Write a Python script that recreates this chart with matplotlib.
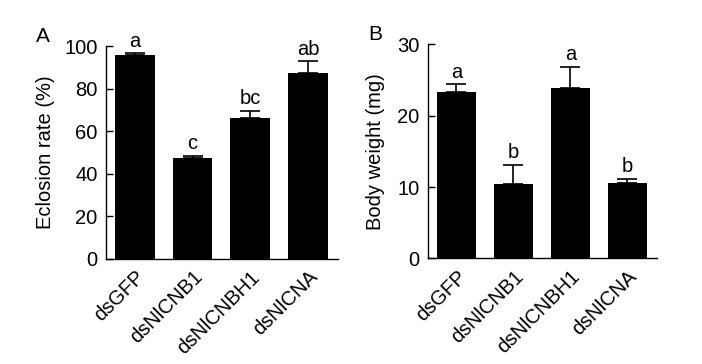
import matplotlib.pyplot as plt
import numpy as np

plt.rcParams['font.family'] = ['Liberation Sans', 'DejaVu Sans']

groups = ['dsGFP', 'dsNlCNB1', 'dsNlCNBH1', 'dsNlCNA']

eclosion = [95.8, 47.3, 66.0, 87.2]
eclosion_err = [0.8, 1.1, 3.5, 5.6]
eclosion_letters = ['a', 'c', 'bc', 'ab']

weight = [23.3, 10.5, 23.9, 10.6]
weight_err = [1.1, 2.6, 2.9, 0.5]
weight_letters = ['a', 'b', 'a', 'b']

fig = plt.figure(figsize=(7.02, 3.64), dpi=100)
axA = fig.add_axes([0.151, 0.2885, 0.3305, 0.585])
axB = fig.add_axes([0.6097, 0.290, 0.326, 0.588])


def panel(ax, vals, errs, letters, ylim, yticks, ylabel, tag, tag_x, pad):
    x = np.arange(len(groups))
    ax.bar(x, vals, width=0.69, color='black', zorder=2)
    ax.errorbar(x, vals, yerr=[np.zeros(len(vals)), errs], fmt='none',
                ecolor='black', elinewidth=1.2, capsize=7.5, capthick=1.2, zorder=1)
    for xi, v, e, t in zip(x, vals, errs, letters):
        ax.annotate(t, (xi, v + e), xytext=(0, 2), textcoords='offset points',
                    ha='center', va='bottom', fontsize=14.5)
    ax.set_xlim(-0.5, 3.52)
    ax.set_ylim(*ylim)
    ax.set_yticks(yticks)
    ax.set_xticks(x)
    ax.set_xticklabels(groups, rotation=45, ha='right', rotation_mode='anchor',
                       fontsize=14.5)
    ax.tick_params(axis='x', length=0, pad=6)
    ax.tick_params(axis='y', direction='in', length=5, width=1, labelsize=14.5, pad=6)
    ax.spines['top'].set_visible(False)
    ax.spines['right'].set_visible(False)
    ax.spines['left'].set_linewidth(1)
    ax.spines['bottom'].set_linewidth(1)
    ax.set_ylabel(ylabel, fontsize=14.5, labelpad=pad)
    ax.text(tag_x, 1.0, tag, transform=ax.transAxes, fontsize=15,
            ha='left', va='bottom')


panel(axA, eclosion, eclosion_err, eclosion_letters, (0, 100),
      [0, 20, 40, 60, 80, 100], 'Eclosion rate (%)', 'A', -0.30, 7)
panel(axB, weight, weight_err, weight_letters, (0, 30),
      [0, 10, 20, 30], 'Body weight (mg)', 'B', -0.26, 9)

fig.savefig('out.png', dpi=100)
